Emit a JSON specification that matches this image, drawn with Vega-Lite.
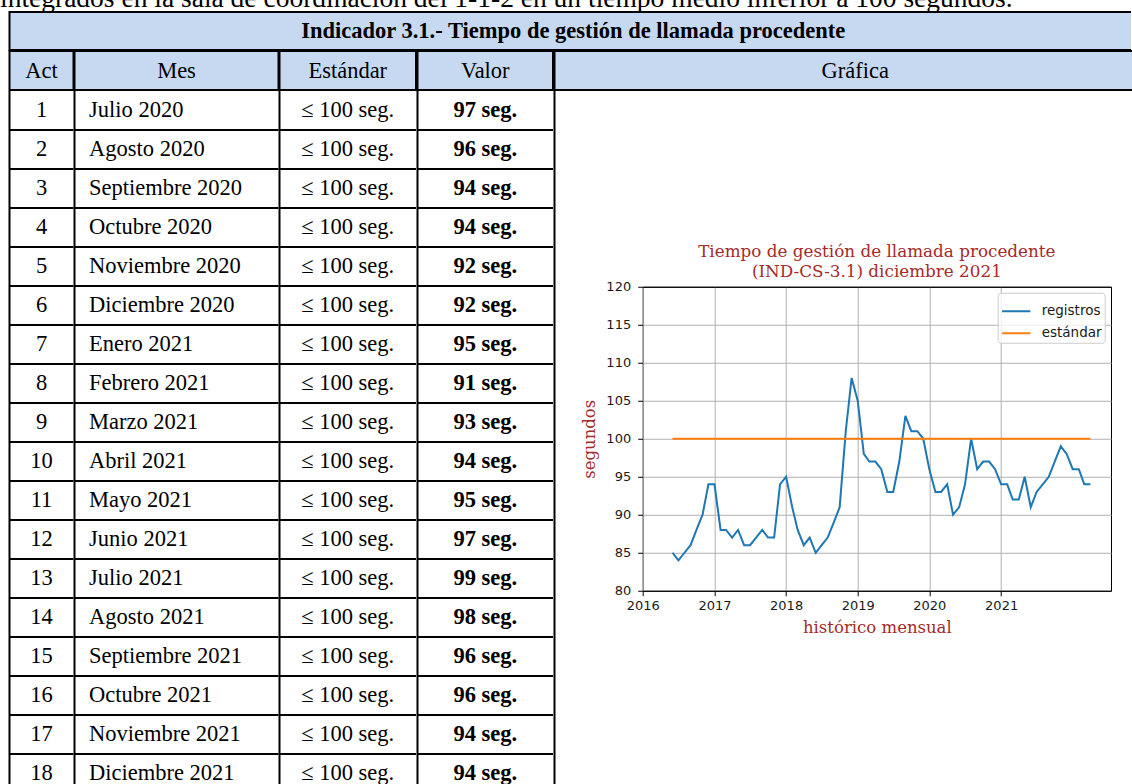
{
  "$schema": "https://vega.github.io/schema/vega-lite/v6.json",
  "padding": 0,
  "background": "white",
  "spacing": -1,
  "config": {
    "view": {"stroke": null},
    "font": "Liberation Serif",
    "text": {"font": "Liberation Serif", "fontSize": 22.5, "color": "#000000"}
  },
  "datasets": {
    "tabla": [
      {"act": 1, "mes": "Julio 2020", "estandar": "≤ 100 seg.", "valor": "97 seg."},
      {"act": 2, "mes": "Agosto 2020", "estandar": "≤ 100 seg.", "valor": "96 seg."},
      {"act": 3, "mes": "Septiembre 2020", "estandar": "≤ 100 seg.", "valor": "94 seg."},
      {"act": 4, "mes": "Octubre 2020", "estandar": "≤ 100 seg.", "valor": "94 seg."},
      {"act": 5, "mes": "Noviembre 2020", "estandar": "≤ 100 seg.", "valor": "92 seg."},
      {"act": 6, "mes": "Diciembre 2020", "estandar": "≤ 100 seg.", "valor": "92 seg."},
      {"act": 7, "mes": "Enero 2021", "estandar": "≤ 100 seg.", "valor": "95 seg."},
      {"act": 8, "mes": "Febrero 2021", "estandar": "≤ 100 seg.", "valor": "91 seg."},
      {"act": 9, "mes": "Marzo 2021", "estandar": "≤ 100 seg.", "valor": "93 seg."},
      {"act": 10, "mes": "Abril 2021", "estandar": "≤ 100 seg.", "valor": "94 seg."},
      {"act": 11, "mes": "Mayo 2021", "estandar": "≤ 100 seg.", "valor": "95 seg."},
      {"act": 12, "mes": "Junio 2021", "estandar": "≤ 100 seg.", "valor": "97 seg."},
      {"act": 13, "mes": "Julio 2021", "estandar": "≤ 100 seg.", "valor": "99 seg."},
      {"act": 14, "mes": "Agosto 2021", "estandar": "≤ 100 seg.", "valor": "98 seg."},
      {"act": 15, "mes": "Septiembre 2021", "estandar": "≤ 100 seg.", "valor": "96 seg."},
      {"act": 16, "mes": "Octubre 2021", "estandar": "≤ 100 seg.", "valor": "96 seg."},
      {"act": 17, "mes": "Noviembre 2021", "estandar": "≤ 100 seg.", "valor": "94 seg."},
      {"act": 18, "mes": "Diciembre 2021", "estandar": "≤ 100 seg.", "valor": "94 seg."}
    ],
    "serie": [
      {"fecha": "2016-06-01", "registros": 85, "estándar": 100},
      {"fecha": "2016-07-01", "registros": 84, "estándar": 100},
      {"fecha": "2016-08-01", "registros": 85, "estándar": 100},
      {"fecha": "2016-09-01", "registros": 86, "estándar": 100},
      {"fecha": "2016-10-01", "registros": 88, "estándar": 100},
      {"fecha": "2016-11-01", "registros": 90, "estándar": 100},
      {"fecha": "2016-12-01", "registros": 94, "estándar": 100},
      {"fecha": "2017-01-01", "registros": 94, "estándar": 100},
      {"fecha": "2017-02-01", "registros": 88, "estándar": 100},
      {"fecha": "2017-03-01", "registros": 88, "estándar": 100},
      {"fecha": "2017-04-01", "registros": 87, "estándar": 100},
      {"fecha": "2017-05-01", "registros": 88, "estándar": 100},
      {"fecha": "2017-06-01", "registros": 86, "estándar": 100},
      {"fecha": "2017-07-01", "registros": 86, "estándar": 100},
      {"fecha": "2017-08-01", "registros": 87, "estándar": 100},
      {"fecha": "2017-09-01", "registros": 88, "estándar": 100},
      {"fecha": "2017-10-01", "registros": 87, "estándar": 100},
      {"fecha": "2017-11-01", "registros": 87, "estándar": 100},
      {"fecha": "2017-12-01", "registros": 94, "estándar": 100},
      {"fecha": "2018-01-01", "registros": 95, "estándar": 100},
      {"fecha": "2018-02-01", "registros": 91, "estándar": 100},
      {"fecha": "2018-03-01", "registros": 88, "estándar": 100},
      {"fecha": "2018-04-01", "registros": 86, "estándar": 100},
      {"fecha": "2018-05-01", "registros": 87, "estándar": 100},
      {"fecha": "2018-06-01", "registros": 85, "estándar": 100},
      {"fecha": "2018-07-01", "registros": 86, "estándar": 100},
      {"fecha": "2018-08-01", "registros": 87, "estándar": 100},
      {"fecha": "2018-09-01", "registros": 89, "estándar": 100},
      {"fecha": "2018-10-01", "registros": 91, "estándar": 100},
      {"fecha": "2018-11-01", "registros": 101, "estándar": 100},
      {"fecha": "2018-12-01", "registros": 108, "estándar": 100},
      {"fecha": "2019-01-01", "registros": 105, "estándar": 100},
      {"fecha": "2019-02-01", "registros": 98, "estándar": 100},
      {"fecha": "2019-03-01", "registros": 97, "estándar": 100},
      {"fecha": "2019-04-01", "registros": 97, "estándar": 100},
      {"fecha": "2019-05-01", "registros": 96, "estándar": 100},
      {"fecha": "2019-06-01", "registros": 93, "estándar": 100},
      {"fecha": "2019-07-01", "registros": 93, "estándar": 100},
      {"fecha": "2019-08-01", "registros": 97, "estándar": 100},
      {"fecha": "2019-09-01", "registros": 103, "estándar": 100},
      {"fecha": "2019-10-01", "registros": 101, "estándar": 100},
      {"fecha": "2019-11-01", "registros": 101, "estándar": 100},
      {"fecha": "2019-12-01", "registros": 100, "estándar": 100},
      {"fecha": "2020-01-01", "registros": 96, "estándar": 100},
      {"fecha": "2020-02-01", "registros": 93, "estándar": 100},
      {"fecha": "2020-03-01", "registros": 93, "estándar": 100},
      {"fecha": "2020-04-01", "registros": 94, "estándar": 100},
      {"fecha": "2020-05-01", "registros": 90, "estándar": 100},
      {"fecha": "2020-06-01", "registros": 91, "estándar": 100},
      {"fecha": "2020-07-01", "registros": 94, "estándar": 100},
      {"fecha": "2020-08-01", "registros": 100, "estándar": 100},
      {"fecha": "2020-09-01", "registros": 96, "estándar": 100},
      {"fecha": "2020-10-01", "registros": 97, "estándar": 100},
      {"fecha": "2020-11-01", "registros": 97, "estándar": 100},
      {"fecha": "2020-12-01", "registros": 96, "estándar": 100},
      {"fecha": "2021-01-01", "registros": 94, "estándar": 100},
      {"fecha": "2021-02-01", "registros": 94, "estándar": 100},
      {"fecha": "2021-03-01", "registros": 92, "estándar": 100},
      {"fecha": "2021-04-01", "registros": 92, "estándar": 100},
      {"fecha": "2021-05-01", "registros": 95, "estándar": 100},
      {"fecha": "2021-06-01", "registros": 91, "estándar": 100},
      {"fecha": "2021-07-01", "registros": 93, "estándar": 100},
      {"fecha": "2021-08-01", "registros": 94, "estándar": 100},
      {"fecha": "2021-09-01", "registros": 95, "estándar": 100},
      {"fecha": "2021-10-01", "registros": 97, "estándar": 100},
      {"fecha": "2021-11-01", "registros": 99, "estándar": 100},
      {"fecha": "2021-12-01", "registros": 98, "estándar": 100},
      {"fecha": "2022-01-01", "registros": 96, "estándar": 100},
      {"fecha": "2022-02-01", "registros": 96, "estándar": 100},
      {"fecha": "2022-03-01", "registros": 94, "estándar": 100},
      {"fecha": "2022-04-01", "registros": 94, "estándar": 100}
    ]
  },
  "vconcat": [
    {
      "width": 1132,
      "height": 12,
      "data": {"values": [{"texto": "integrados en la sala de coordinación del 1-1-2 en un tiempo medio inferior a 100 segundos."}]},
      "mark": {"type": "text", "clip": true, "align": "left", "baseline": "alphabetic", "dx": -566, "dy": 1, "fontSize": 27.5},
      "encoding": {"text": {"field": "texto"}}
    },
    {
      "spacing": 7.5,
      "hconcat": [
        {
          "width": 1,
          "height": 1,
          "data": {"values": [{"v": 0}]},
          "mark": {"type": "point", "opacity": 0, "size": 0, "strokeWidth": 0}
        },
        {
          "spacing": -3,
          "vconcat": [
            {
              "width": 1121.5,
              "height": 38,
              "view": {"fill": "#c6d9f1", "stroke": "#000000", "strokeWidth": 2, "strokeDash": [1121.5, 38, 1159.5]},
              "data": {"values": [{"titulo": "Indicador 3.1.- Tiempo de gestión de llamada procedente"}]},
              "mark": {"type": "text", "fontWeight": "bold", "dx": 3},
              "encoding": {"text": {"field": "titulo"}}
            },
            {
              "spacing": -3,
              "hconcat": [
                {
                  "spacing": -2.5,
                  "vconcat": [
                    {
                      "width": 64,
                      "height": 39,
                      "view": {"fill": "#c6d9f1", "stroke": "#000000", "strokeWidth": 2},
                      "data": {"values": [{"encabezado": "Act"}]},
                      "mark": {"type": "text"},
                      "encoding": {"text": {"field": "encabezado"}}
                    },
                    {
                      "width": 64,
                      "height": 694,
                      "data": {"name": "tabla"},
                      "mark": {"type": "text"},
                      "encoding": {
                        "y": {
                          "field": "act", "type": "quantitative",
                          "scale": {"domain": [0.5, 18.295], "reverse": true, "nice": false, "zero": false},
                          "axis": {"orient": "left", "values": [1.5, 2.5, 3.5, 4.5, 5.5, 6.5, 7.5, 8.5, 9.5, 10.5, 11.5, 12.5, 13.5, 14.5, 15.5, 16.5, 17.5], "grid": true, "gridColor": "#000000", "gridWidth": 2, "gridOpacity": 1, "domain": true, "domainColor": "#000000", "domainWidth": 2, "ticks": false, "labels": false, "title": null, "translate": 0}
                        },
                        "text": {"field": "act", "type": "nominal"}
                      }
                    }
                  ]
                },
                {
                  "spacing": -2.5,
                  "vconcat": [
                    {
                      "width": 204,
                      "height": 39,
                      "view": {"fill": "#c6d9f1", "stroke": "#000000", "strokeWidth": 2},
                      "data": {"values": [{"encabezado": "Mes"}]},
                      "mark": {"type": "text"},
                      "encoding": {"text": {"field": "encabezado"}}
                    },
                    {
                      "width": 204,
                      "height": 694,
                      "data": {"name": "tabla"},
                      "mark": {"type": "text", "align": "left", "dx": -87.5},
                      "encoding": {
                        "y": {
                          "field": "act", "type": "quantitative",
                          "scale": {"domain": [0.5, 18.295], "reverse": true, "nice": false, "zero": false},
                          "axis": {"orient": "left", "values": [1.5, 2.5, 3.5, 4.5, 5.5, 6.5, 7.5, 8.5, 9.5, 10.5, 11.5, 12.5, 13.5, 14.5, 15.5, 16.5, 17.5], "grid": true, "gridColor": "#000000", "gridWidth": 2, "gridOpacity": 1, "domain": true, "domainColor": "#000000", "domainWidth": 2, "ticks": false, "labels": false, "title": null, "translate": 0}
                        },
                        "text": {"field": "mes"}
                      }
                    }
                  ]
                },
                {
                  "spacing": -2.5,
                  "vconcat": [
                    {
                      "width": 136.5,
                      "height": 39,
                      "view": {"fill": "#c6d9f1", "stroke": "#000000", "strokeWidth": 2},
                      "data": {"values": [{"encabezado": "Estándar"}]},
                      "mark": {"type": "text"},
                      "encoding": {"text": {"field": "encabezado"}}
                    },
                    {
                      "width": 136.5,
                      "height": 694,
                      "data": {"name": "tabla"},
                      "mark": {"type": "text"},
                      "encoding": {
                        "y": {
                          "field": "act", "type": "quantitative",
                          "scale": {"domain": [0.5, 18.295], "reverse": true, "nice": false, "zero": false},
                          "axis": {"orient": "left", "values": [1.5, 2.5, 3.5, 4.5, 5.5, 6.5, 7.5, 8.5, 9.5, 10.5, 11.5, 12.5, 13.5, 14.5, 15.5, 16.5, 17.5], "grid": true, "gridColor": "#000000", "gridWidth": 2, "gridOpacity": 1, "domain": true, "domainColor": "#000000", "domainWidth": 2, "ticks": false, "labels": false, "title": null, "translate": 0}
                        },
                        "text": {"field": "estandar"}
                      }
                    }
                  ]
                },
                {
                  "spacing": -2.5,
                  "vconcat": [
                    {
                      "width": 135.5,
                      "height": 39,
                      "view": {"fill": "#c6d9f1", "stroke": "#000000", "strokeWidth": 2},
                      "data": {"values": [{"encabezado": "Valor"}]},
                      "mark": {"type": "text"},
                      "encoding": {"text": {"field": "encabezado"}}
                    },
                    {
                      "width": 135.5,
                      "height": 694,
                      "data": {"name": "tabla"},
                      "mark": {"type": "text", "fontWeight": "bold"},
                      "encoding": {
                        "y": {
                          "field": "act", "type": "quantitative",
                          "scale": {"domain": [0.5, 18.295], "reverse": true, "nice": false, "zero": false},
                          "axis": {"orient": "left", "values": [1.5, 2.5, 3.5, 4.5, 5.5, 6.5, 7.5, 8.5, 9.5, 10.5, 11.5, 12.5, 13.5, 14.5, 15.5, 16.5, 17.5], "grid": true, "gridColor": "#000000", "gridWidth": 2, "gridOpacity": 1, "domain": true, "domainColor": "#000000", "domainWidth": 2, "ticks": false, "labels": false, "title": null, "translate": 0}
                        },
                        "text": {"field": "valor"}
                      }
                    }
                  ]
                },
                {
                  "spacing": -2.5,
                  "vconcat": [
                    {
                      "width": 581.5,
                      "height": 39,
                      "view": {"fill": "#c6d9f1", "stroke": "#000000", "strokeWidth": 2, "strokeDash": [581.5, 39, 620.5]},
                      "data": {"values": [{"encabezado": "Gráfica"}]},
                      "mark": {"type": "text", "dx": 10},
                      "encoding": {"text": {"field": "encabezado"}}
                    },
                    {
                      "spacing": 25.2,
                      "hconcat": [
                        {
                          "width": 1,
                          "height": 694,
                          "data": {"name": "tabla"},
                          "mark": {"type": "point", "opacity": 0, "size": 0, "strokeWidth": 0},
                          "encoding": {
                            "y": {
                              "field": "act", "type": "quantitative",
                              "scale": {"domain": [0.5, 18.295], "reverse": true, "nice": false, "zero": false},
                              "axis": {"orient": "left", "grid": false, "domain": true, "domainColor": "#000000", "domainWidth": 2, "ticks": false, "labels": false, "title": null, "translate": 0}
                            }
                          }
                        },
                        {
                          "spacing": 150.75,
                          "resolve": {"scale": {"color": "independent"}, "legend": {"color": "independent"}},
                          "vconcat": [
                            {
                              "width": 1,
                              "height": 1,
                              "data": {"values": [{"v": 0}]},
                              "mark": {"type": "point", "opacity": 0, "size": 0, "strokeWidth": 0}
                            },
                            {
                              "width": 468.3,
                              "height": 304,
                              "view": {"stroke": "#000000", "strokeWidth": 1},
                              "title": {
                                "text": ["Tiempo de gestión de llamada procedente", "(IND-CS-3.1) diciembre 2021"],
                                "font": "DejaVu Serif", "fontSize": 16.8, "fontWeight": "normal", "color": "#a52a2a",
                                "lineHeight": 20, "offset": 0, "anchor": "middle", "frame": "group"
                              },
                              "data": {"name": "serie"},
                              "transform": [{"fold": ["registros", "estándar"], "as": ["leyenda", "segundos"]}],
                              "mark": {"type": "line", "strokeWidth": 2},
                              "encoding": {
                                "x": {
                                  "field": "fecha", "type": "temporal", "title": "histórico mensual",
                                  "scale": {"type": "utc", "domain": [1451606400000, 1657843200000], "nice": false},
                                  "axis": {
                                    "values": [1451606400000, 1483228800000, 1514764800000, 1546300800000, 1577836800000, 1609459200000],
                                    "format": "%Y", "labelFlush": false, "labelOverlap": false,
                                    "grid": true, "gridWidth": 1,
                                    "gridColor": {"condition": {"test": "datum.value === 1451606400000", "value": "#000000"}, "value": "#b0b0b0"},
                                    "domain": false, "ticks": true, "tickColor": "#000000", "tickSize": 5,
                                    "labelFont": "DejaVu Sans", "labelFontSize": 13, "labelColor": "#1a1a1a", "labelPadding": 4,
                                    "titleFont": "DejaVu Serif", "titleFontSize": 16.5, "titleFontWeight": "normal", "titleColor": "#a52a2a", "titlePadding": 7
                                  }
                                },
                                "y": {
                                  "field": "segundos", "type": "quantitative", "title": "segundos",
                                  "scale": {"domain": [80, 120], "nice": false, "zero": false},
                                  "axis": {
                                    "values": [80, 85, 90, 95, 100, 105, 110, 115, 120],
                                    "labelFlush": false, "labelOverlap": false,
                                    "grid": true, "gridWidth": 1,
                                    "gridColor": {"condition": {"test": "datum.value === 80 || datum.value === 120", "value": "#000000"}, "value": "#b0b0b0"},
                                    "domain": false, "ticks": true, "tickColor": "#000000", "tickSize": 5,
                                    "labelFont": "DejaVu Sans", "labelFontSize": 13, "labelColor": "#1a1a1a", "labelPadding": 7,
                                    "titleFont": "DejaVu Serif", "titleFontSize": 16.5, "titleFontWeight": "normal", "titleColor": "#a52a2a", "titlePadding": 8
                                  }
                                },
                                "color": {
                                  "field": "leyenda", "type": "nominal",
                                  "scale": {"domain": ["registros", "estándar"], "range": ["#1f77b4", "#ff7f0e"]},
                                  "legend": {
                                    "title": null, "orient": "top-right", "offset": 6,
                                    "fillColor": "rgba(255,255,255,0.8)", "strokeColor": "#cccccc", "cornerRadius": 3, "padding": 3,
                                    "symbolType": "stroke", "symbolStrokeWidth": 2, "symbolSize": 800,
                                    "labelFont": "DejaVu Sans", "labelFontSize": 13.5, "labelColor": "#1a1a1a", "labelOffset": 10, "rowPadding": 0
                                  }
                                }
                              }
                            }
                          ]
                        }
                      ]
                    }
                  ]
                }
              ]
            }
          ]
        }
      ]
    }
  ]
}
